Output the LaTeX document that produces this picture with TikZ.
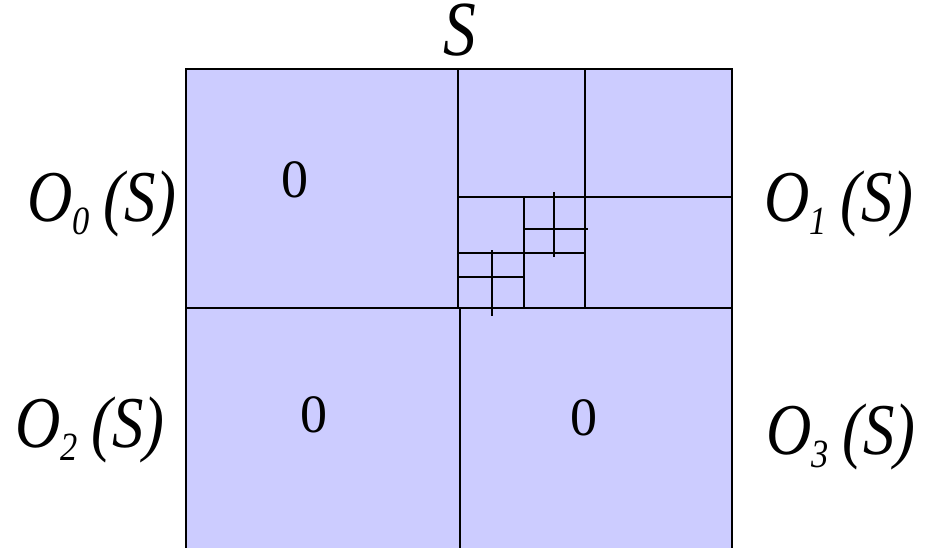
\documentclass[tikz,border=0pt]{standalone}
\usepackage{fontspec}
\setmainfont{Liberation Serif}
\definecolor{quad}{RGB}{204,204,255}
\newcommand\olab[1]{\scalebox{0.86}[1]{O\raisebox{-13pt}{\fontsize{40}{40}\selectfont #1}\hspace{16pt}(S)}}
\begin{document}
\begin{tikzpicture}[x=1pt,y=-1pt,
  grid/.style={line width=1.5pt, draw=black},
  lbl/.style={inner sep=0pt, anchor=base west, font=\fontsize{73}{73}\selectfont\itshape},
  zero/.style={inner sep=0pt, anchor=base, font=\fontsize{54}{54}\selectfont}]
\useasboundingbox (0,0) rectangle (926,548);
\begin{scope}
\clip (0,0) rectangle (926,548);
\fill[quad] (186,69) rectangle (732,570);
\draw[grid] (186,570) -- (186,69) -- (732,69) -- (732,570);
\draw[grid] (186,308) -- (732,308);
\draw[grid] (458,69) -- (458,308);
\draw[grid] (460,308) -- (460,570);
\draw[grid] (585,69) -- (585,308);
\draw[grid] (458,197) -- (732,197);
\draw[grid] (524,197) -- (524,308);
\draw[grid] (458,253) -- (586,253);
\draw[grid] (554,192) -- (554,257);
\draw[grid] (524,229) -- (588,229);
\draw[grid] (492,250) -- (492,316);
\draw[grid] (458,277) -- (523,277);
\end{scope}
\node[lbl, font=\fontsize{78}{78}\selectfont\itshape, text height=50pt, text depth=2pt] (s) at (443,56) {\scalebox{0.84}[1]{S}};
\node[lbl] (o0) at (27,222) {\olab{0}};
\node[lbl] (o1) at (764,222) {\olab{1}};
\node[lbl] (o2) at (15,447) {\olab{2}};
\node[lbl] (o3) at (766,454) {\olab{3}};
\node[zero] (z0) at (295,198) {0};
\node[zero] (z2) at (313.5,432) {0};
\node[zero] (z3) at (584,435) {0};
\end{tikzpicture}
\end{document}
